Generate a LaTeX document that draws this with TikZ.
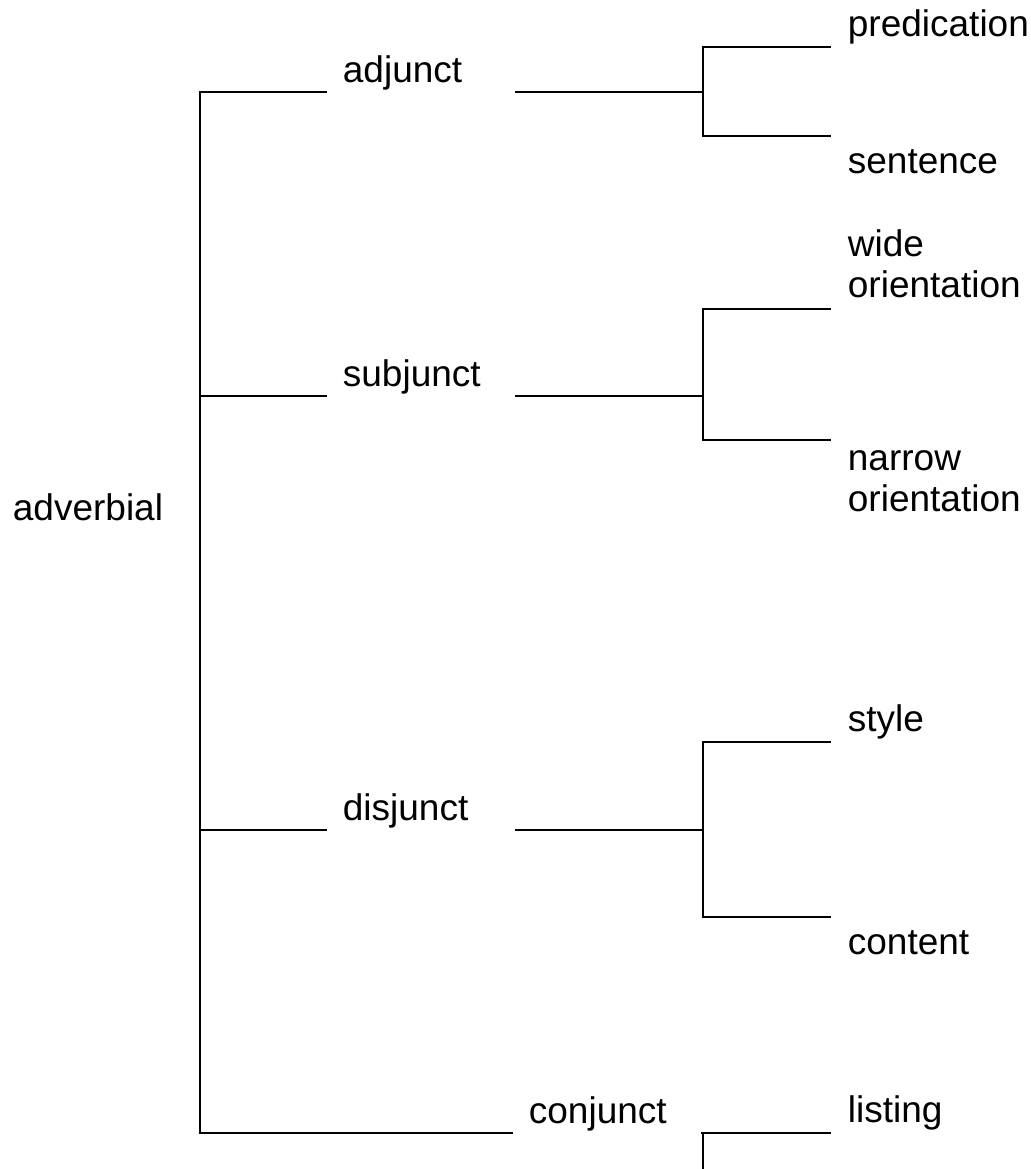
\documentclass[tikz,border=0pt]{standalone}
\usepackage{fontspec}
\setmainfont{Liberation Sans}
\begin{document}
\begin{tikzpicture}[x=0.5pt,y=-0.5pt,line width=0.9pt,
    every node/.style={font=\fontsize{18.5}{20.5}\selectfont},
    mid/.style={anchor=south west,inner xsep=7.5pt,inner ysep=0pt,text depth=4.5pt,text width=78pt},
    upleaf/.style={anchor=south west,inner xsep=8pt,inner ysep=5pt,text depth=0pt},
    upleaves/.style={anchor=south west,inner xsep=8pt,inner ysep=5pt,align=left},
    lowleaf/.style={anchor=north west,inner xsep=8pt,inner ysep=5pt,text height=13.5pt},
    lowleaves/.style={anchor=north west,inner xsep=8pt,inner ysep=5pt,align=left}]
  \useasboundingbox (0,0) rectangle (1031,1169);
  \node[anchor=base west,inner sep=0pt] (adverbial) at (12,520) {adverbial};
  \node[mid] (adjunct) at (327,92) {adjunct};
  \node[mid] (subjunct) at (327,396) {subjunct};
  \node[mid] (disjunct) at (327,830) {disjunct};
  \node[mid] (conjunct) at (513,1133) {conjunct};
  \node[upleaf] (predication) at (831,47) {predication};
  \node[lowleaf] (sentence) at (831,136) {sentence};
  \node[upleaves] (wide) at (831,309) {wide\\orientation};
  \node[lowleaves] (narrow) at (831,440) {narrow\\orientation};
  \node[upleaf] (style) at (831,742) {style};
  \node[lowleaf] (content) at (831,917) {content};
  \node[upleaf] (listing) at (831,1133) {listing};
  \coordinate (rbot) at (200,1133);
  \coordinate (kA) at (703,92);
  \coordinate (kB) at (703,396);
  \coordinate (kC) at (703,830);
  \coordinate (kD) at (703,1133);
  \coordinate (kDend) at (703,1169);
  \draw (adjunct.south west) -| (rbot) -- (conjunct.south west);
  \draw (subjunct.south west) -- (subjunct.south west -| rbot);
  \draw (disjunct.south west) -- (disjunct.south west -| rbot);
  \draw (adjunct.south east) -- (kA);
  \draw (subjunct.south east) -- (kB);
  \draw (disjunct.south east) -- (kC);
  \draw (conjunct.south east) -- (kD);
  \draw (predication.south west) -| (kA) |- (sentence.north west);
  \draw (wide.south west) -| (kB) |- (narrow.north west);
  \draw (style.south west) -| (kC) |- (content.north west);
  \draw (listing.south west) -| (kD) -- (kDend);
\end{tikzpicture}
\end{document}
